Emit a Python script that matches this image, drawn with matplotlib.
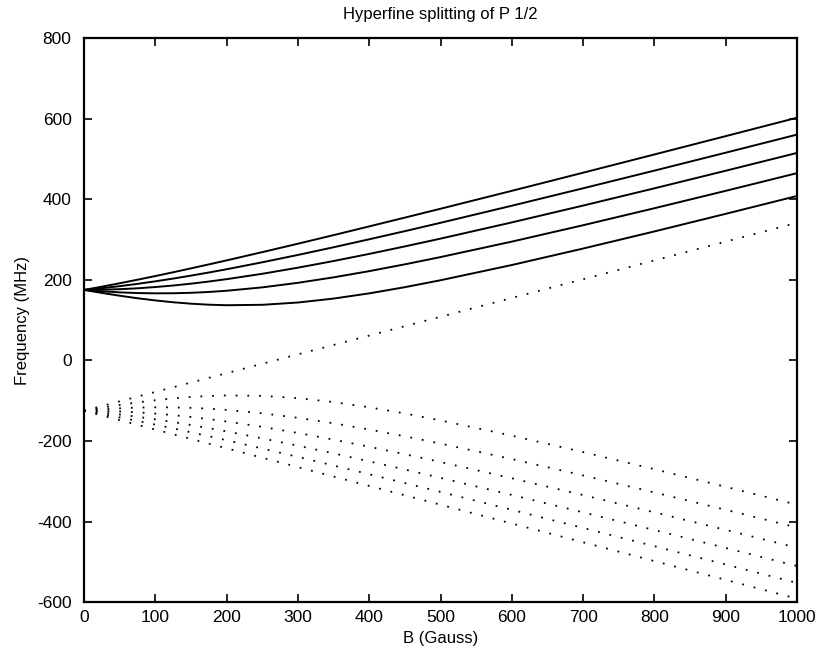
import numpy as np
import matplotlib
matplotlib.use("Agg")
import matplotlib.pyplot as plt

# -------------------------------
# Data (MHz vs Gauss)
# -------------------------------
b_gauss = [0, 25, 50, 75, 100, 125, 150, 175, 200, 250, 300, 350, 400, 450,
           500, 600, 700, 800, 900, 1000]

# upper manifold (solid lines)
upper_1 = [175, 183.0, 191.5, 200.3, 209.4, 218.8, 228.5, 238.3, 248.3, 268.8,
           289.7, 311.0, 332.7, 354.5, 376.5, 421.0, 466.0, 511.3, 556.8, 602.5]
upper_2 = [175, 179.3, 184.3, 190.0, 196.3, 203.1, 210.5, 218.2, 226.3, 243.6,
           261.8, 280.9, 300.7, 320.9, 341.6, 384.0, 427.3, 471.2, 515.7, 560.6]
upper_3 = [175, 175.5, 176.8, 179.0, 182.1, 185.9, 190.5, 195.8, 201.7, 215.0,
           230.2, 246.7, 264.4, 283.0, 302.3, 342.6, 384.4, 427.2, 470.9, 515.1]
upper_4 = [175, 171.5, 168.9, 167.2, 166.5, 166.7, 167.8, 169.9, 172.9, 181.3,
           192.6, 206.2, 221.6, 238.5, 256.5, 294.9, 335.6, 377.8, 421.0, 464.9]
upper_5 = [175, 167.5, 160.6, 154.3, 148.9, 144.3, 140.8, 138.3, 137.0, 138.0,
           143.7, 153.5, 166.4, 181.8, 199.0, 236.8, 277.7, 320.2, 363.9, 408.2]

# lower manifold (dotted lines)
lower_up = [-125, -113.3, -101.7, -90.0, -78.3, -66.7, -55.0, -43.3, -31.7, -8.4,
            15.0, 38.3, 61.6, 85.0, 108.3, 155.0, 201.6, 248.3, 294.9, 341.6]
lower_1 = [-125, -117.5, -110.6, -104.3, -98.9, -94.3, -90.8, -88.3, -87.0, -88.0,
           -93.7, -103.5, -116.4, -131.8, -149.0, -186.8, -227.7, -270.2, -313.9, -358.2]
lower_2 = [-125, -121.5, -118.9, -117.2, -116.5, -116.7, -117.8, -119.9, -122.9, -131.3,
           -142.6, -156.2, -171.6, -188.5, -206.5, -244.9, -285.6, -327.8, -371.0, -414.9]
lower_3 = [-125, -125.5, -126.8, -129.0, -132.1, -135.9, -140.5, -145.8, -151.7, -165.0,
           -180.2, -196.7, -214.4, -233.0, -252.3, -292.6, -334.4, -377.2, -420.9, -465.1]
lower_4 = [-125, -129.3, -134.3, -140.0, -146.3, -153.1, -160.5, -168.2, -176.3, -193.6,
           -211.8, -230.9, -250.7, -270.9, -291.6, -334.0, -377.3, -421.2, -465.7, -510.6]
lower_5 = [-125, -133.0, -141.5, -150.3, -159.4, -168.8, -178.5, -188.3, -198.3, -218.8,
           -239.7, -261.0, -282.7, -304.5, -326.5, -371.0, -416.0, -461.3, -506.8, -552.5]
lower_6 = [-125, -136.7, -148.3, -160.0, -171.7, -183.3, -195.0, -206.7, -218.3, -241.7,
           -265.0, -288.3, -311.6, -335.0, -358.3, -405.0, -451.6, -498.3, -544.9, -591.6]

x_ticks = [0, 100, 200, 300, 400, 500, 600, 700, 800, 900, 1000]
y_ticks = [-600, -400, -200, 0, 200, 400, 600, 800]

# -------------------------------
# Plot
# -------------------------------
plt.rcParams["font.family"] = ["Liberation Sans", "DejaVu Sans"]
plt.rcParams["axes.unicode_minus"] = False

fig = plt.figure(figsize=(8.19, 6.58), dpi=100)
ax = fig.add_axes([0.1026, 0.085, 0.8706, 0.857])

for ys in [upper_1, upper_2, upper_3, upper_4, upper_5]:
    ax.plot(b_gauss, ys, color="black", linewidth=1.4)

for ys in [lower_up, lower_1, lower_2, lower_3, lower_4, lower_5, lower_6]:
    ax.plot(b_gauss, ys, color="black", linewidth=1.3, linestyle=(0, (1, 5.5)))

ax.set_xlim(0, 1000)
ax.set_ylim(-600, 800)
ax.set_xticks(x_ticks)
ax.set_yticks(y_ticks)
ax.tick_params(direction="in", length=6, width=1.2, top=True, right=True,
               labelsize=12.5)
ax.tick_params(axis="y", pad=9)
ax.tick_params(axis="x", pad=6)
for s in ax.spines.values():
    s.set_linewidth(1.6)

ax.set_title("Hyperfine splitting of P 1/2", fontsize=12, pad=14)
ax.set_xlabel("B (Gauss)", fontsize=12, labelpad=4)
ax.set_ylabel("Frequency (MHz)", fontsize=12, labelpad=5)

fig.savefig("out.png", dpi=100)
